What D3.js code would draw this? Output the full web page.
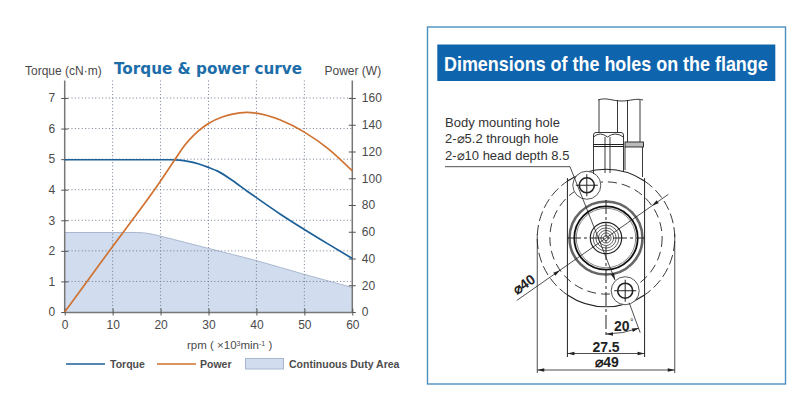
<!DOCTYPE html>
<html><head><meta charset="utf-8">
<script src="https://cdn.jsdelivr.net/npm/d3@7"></script>
<style>
html,body{margin:0;padding:0;background:#fff}
svg{display:block}
text{font-family:"Liberation Sans",Arial,sans-serif}
</style></head><body>
<svg id="c" width="800" height="393"></svg>
<script>
const torqueRpm=[0,10,20,22,24,26,28,30,32,35,38,40,45,50,55,60];
const torqueVal=[4.98,4.98,4.98,4.98,4.97,4.92,4.84,4.73,4.6,4.3,3.96,3.74,3.2,2.7,2.22,1.75];
const powerRpm=[0,5,10,15,20,23,25,27,29,30,33,35,38,40,45,50,55,60];
const powerVal=[0,24.5,49,73,98,114,124.5,132.5,138.5,141,146,148,149.2,148.7,143.5,134.5,122,105.5];
const dutyRpm=[0,10,15,17,20,25,30,40,50,60];
const dutyVal=[2.6,2.6,2.6,2.58,2.48,2.28,2.08,1.68,1.23,.8];
const torqueTicks=[0,1,2,3,4,5,6,7];
const powerTicks=[0,20,40,60,80,100,120,140,160];
const rpmTicks=[0,10,20,30,40,50,60];
const noteLines=["Body mounting hole","2-⌀5.2 through hole","2-⌀10 head depth 8.5"];
const legendNames=["Torque","Power","Continuous Duty Area"];
const flangeDashDia=40, flangeDia=49, flatWidth=27.5, holeAngle=20;
const ringRadii=[13,11.3,10.6];
const coreRadii=[5.6,4.6,3.6,2.7,1.8,.9];

const svg=d3.select("#c");
const L=64.7,R=352.3,B=312,T=80.5;
const x=d3.scaleLinear().domain([0,60]).range([L,R]);
const yT=d3.scaleLinear().domain([0,7]).range([B,98]);
const yP=d3.scaleLinear().domain([0,160]).range([B,98]);
const blue="#1b6098",orange="#cf7231",txt="#4a4a4a",axc="#777";

// area
const curve=d3.curveMonotoneX;
svg.append("path").datum(dutyRpm.map((r,i)=>[r,dutyVal[i]]))
  .attr("fill","#d1dcee")
  .attr("d",d3.area().x(d=>x(d[0])).y0(B).y1(d=>yT(d[1])).curve(curve));
svg.append("path").datum(dutyRpm.map((r,i)=>[r,dutyVal[i]]))
  .attr("fill","none").attr("stroke","#a9b8d0").attr("stroke-width",1)
  .attr("d",d3.line().x(d=>x(d[0])).y(d=>yT(d[1])).curve(curve));

// grid
const grid=svg.append("g").attr("stroke","#6f7b90").attr("stroke-width",1).attr("stroke-dasharray","1 2.4");
torqueTicks.slice(1).forEach(t=>grid.append("line").attr("x1",L).attr("x2",R).attr("y1",yT(t)).attr("y2",yT(t)));
rpmTicks.slice(1,-1).forEach(t=>grid.append("line").attr("x1",x(t)).attr("x2",x(t)).attr("y1",T).attr("y2",B));

// axes: ticks straddle the axis lines
function axis(g,a,vertical){g.call(a);
  const dom=g.select(".domain").attr("stroke",axc).attr("stroke-width",1.5);
  if(vertical) dom.attr("d",`M0,${T}V${B}`);
  g.selectAll(".tick line").attr("stroke","#555").attr("stroke-width",1);
  if(vertical) g.selectAll(".tick line").attr("x1",-3.5).attr("x2",3.5);
  else g.selectAll(".tick line").attr("y1",-3.5).attr("y2",3.5);
  g.selectAll("text").attr("fill",txt).attr("font-size",12).attr("font-family",'"Liberation Sans",Arial,sans-serif');}
axis(svg.append("g").attr("transform",`translate(${L},0)`),d3.axisLeft(yT).tickValues(torqueTicks).tickFormat(d3.format("d")).tickSize(3.5).tickPadding(6).tickSizeOuter(0),true);
axis(svg.append("g").attr("transform",`translate(${R},0)`),d3.axisRight(yP).tickValues(powerTicks).tickSize(3.5).tickPadding(6).tickSizeOuter(0),true);
axis(svg.append("g").attr("transform",`translate(0,${B})`),d3.axisBottom(x).tickValues(rpmTicks).tickSize(3.5).tickPadding(5).tickSizeOuter(0),false);

// curves
svg.append("path").datum(torqueRpm.map((r,i)=>[r,torqueVal[i]])).attr("fill","none").attr("stroke",blue).attr("stroke-width",1.7)
  .attr("d",d3.line().x(d=>x(d[0])).y(d=>yT(d[1])).curve(curve));
svg.append("path").datum(powerRpm.map((r,i)=>[r,powerVal[i]])).attr("fill","none").attr("stroke",orange).attr("stroke-width",1.7)
  .attr("d",d3.line().x(d=>x(d[0])).y(d=>yP(d[1])).curve(curve));

// labels
const label=(px,py,s,size,o={})=>svg.append("text").attr("x",px).attr("y",py).text(s).attr("font-size",size).attr("fill",o.fill||txt)
  .attr("font-weight",o.weight||null).attr("text-anchor",o.anchor||"start").style("font-family",o.font||null);
label(25,75,"Torque (cN·m)",12);
label(324.5,75,"Power (W)",12);
label(114,74,"Torque & power curve",15.2,{fill:"#1c6da9",weight:"bold",font:'"DejaVu Sans",sans-serif'});
const rpmLabel=svg.append("text").attr("x",187).attr("y",349).attr("font-size",11.5).attr("fill",txt);
rpmLabel.append("tspan").text("rpm ( ×10");
rpmLabel.append("tspan").text("3").attr("font-size",7).attr("dy",-3);
rpmLabel.append("tspan").text("min").attr("font-size",11.5).attr("dy",3);
rpmLabel.append("tspan").text("-1").attr("font-size",7).attr("dy",-3);
rpmLabel.append("tspan").text(" )").attr("font-size",11.5).attr("dy",3);

// legend
const ly=364;
svg.append("line").attr("x1",66).attr("x2",105).attr("y1",ly).attr("y2",ly).attr("stroke",blue).attr("stroke-width",1.7);
svg.append("line").attr("x1",157).attr("x2",196).attr("y1",ly).attr("y2",ly).attr("stroke",orange).attr("stroke-width",1.7);
svg.append("rect").attr("x",245.5).attr("y",358.5).attr("width",38).attr("height",10.5).attr("fill","#d1dcee").attr("stroke","#a9b8d0");
[[110,0],[200,1],[289,2]].forEach(([px,i])=>label(px,368,legendNames[i],10.5,{weight:"bold",fill:"#4d4d4d"}));

// right panel
svg.append("rect").attr("x",427.5).attr("y",27).attr("width",358).attr("height",357).attr("fill","none").attr("stroke","#4a8fc0").attr("stroke-width",1.4);
svg.append("rect").attr("x",437.3).attr("y",44.5).attr("width",338).attr("height",36.5).attr("fill","#0f65ad");
const head=svg.append("text").attr("font-size",20).attr("font-weight","bold").attr("fill","#fff").text("Dimensions of the holes on the flange");
const headW=head.node().getComputedTextLength();
head.attr("transform",`translate(444,71) scale(${324/headW},1)`);
noteLines.forEach((s,i)=>label(445,127+i*16.3,s,13,{fill:"#333"}));

// drawing, in millimetres around the shaft centre
const k=d3.scaleLinear().domain([0,flangeDia]).range([0,137.5]);
const cx=606,cy=238;
const d=svg.append("g").attr("transform",`translate(${cx},${cy})`).attr("fill","none").attr("stroke","#222").attr("stroke-width",1);
const rO=k(flangeDia/2),rD=k(flangeDashDia/2),hw=k(flatWidth/2);
const rad=a=>a*Math.PI/180;
const hA=rad(holeAngle);
const h1=[-rD*Math.sin(hA),-rD*Math.cos(hA)], h2=[rD*Math.sin(hA),rD*Math.cos(hA)];
const arcPath=(r,a0,a1)=>{const p=d3.path();p.arc(0,0,r,a0-Math.PI/2,a1-Math.PI/2);return p.toString();};
const aFlat=Math.asin(hw/rO);
d.append("path").attr("d",arcPath(rO,-aFlat,aFlat)).attr("stroke-width",1.2);
d.append("path").attr("d",arcPath(rO,Math.PI-aFlat,Math.PI+aFlat)).attr("stroke-width",1.2);
d.append("path").attr("d",arcPath(rO,aFlat,Math.PI-aFlat)).attr("stroke-dasharray","10 4").attr("stroke-width",.9);
d.append("path").attr("d",arcPath(rO,Math.PI+aFlat,2*Math.PI-aFlat)).attr("stroke-dasharray","10 4").attr("stroke-width",.9);
d.append("circle").attr("r",rD).attr("stroke-dasharray","9 5").attr("stroke-width",.9);
[-hw,hw].forEach(v=>d.append("line").attr("x1",v).attr("x2",v).attr("y1",-Math.sqrt(rO*rO-hw*hw)-3).attr("y2",119));
[-rO,rO].forEach(v=>d.append("line").attr("x1",v).attr("x2",v).attr("y1",-4).attr("y2",135).attr("stroke-width",.8));
ringRadii.forEach((r,i)=>d.append("circle").attr("r",k(r)).attr("stroke",i==0?"#666":i==1?"#111":"#666").attr("stroke-width",i==0?2.6:i==1?1.8:.8));
coreRadii.forEach((r,i)=>d.append("circle").attr("r",k(r)).attr("stroke-width",i==0?1.2:.7));
d.append("line").attr("x1",-39).attr("x2",39).attr("stroke-dasharray","14 3 3 3");
d.append("line").attr("y1",-38).attr("y2",97).attr("stroke-dasharray","14 3 3 3");
[h1,h2].forEach(h=>{const g=d.append("g").attr("transform",`translate(${h[0]},${h[1]})`);
  g.append("circle").attr("r",14).attr("stroke-width",1).attr("fill","#fff").attr("stroke","#555");
  g.append("circle").attr("r",7.5).attr("stroke-width",1.6).attr("fill","#fff");
  g.append("line").attr("x1",-11).attr("x2",11);g.append("line").attr("y1",-11).attr("y2",11);});
d.append("path").attr("d",`M-161,-71.3H-36L9,42`).attr("stroke-width",.8);
const arrow=(px,py,a)=>d.append("path").attr("transform",`translate(${px},${py}) rotate(${a})`).attr("d","M0,0L-7,-1.8L-7,1.8Z").attr("fill","#222").attr("stroke","none");
arrow(9,42,68);
const ang=rad(-35);
const ex=Math.cos(ang),ey=Math.sin(ang);
d.append("line").attr("x1",-109*ex).attr("y1",-109*ey).attr("x2",76*ex).attr("y2",76*ey).attr("stroke-width",.8);
arrow(rD*ex,rD*ey,145);arrow(-rD*ex,-rD*ey,-35);
svg.append("text").attr("transform",`translate(517,295) rotate(-35)`).attr("font-size",14).attr("font-weight","bold").attr("fill","#222").text("⌀40");
d.append("line").attr("x1",h2[0]+4).attr("y1",h2[1]+12).attr("x2",h2[0]+15).attr("y2",h2[1]+42).attr("stroke-width",.8);
d.append("path").attr("d",arcPath(96,Math.PI-hA,Math.PI)).attr("stroke-width",.8);
arrow(0,96,180);arrow(33,90,-18);
label(614,330.5,"20",14,{weight:"bold",fill:"#222"});
label(630,325,"°",9,{fill:"#222"});
d.append("line").attr("x1",-hw).attr("x2",hw).attr("y1",115.5).attr("y2",115.5).attr("stroke-width",.8);
arrow(hw,115.5,0);arrow(-hw,115.5,180);
label(606,352,String(flatWidth),14,{weight:"bold",fill:"#222",anchor:"middle"});
d.append("line").attr("x1",-rO).attr("x2",rO).attr("y1",132).attr("y2",132).attr("stroke-width",.8);
arrow(rO,132,0);arrow(-rO,132,180);
label(607,367,"⌀"+flangeDia,14,{weight:"bold",fill:"#222",anchor:"middle"});
const sh=svg.append("g").attr("fill","none").attr("stroke","#222").attr("stroke-width",.9);
sh.append("path").attr("d","M598,100C606,97 612,101 622,101C630,101 636,98 643,100");
[599,617.5,627.5,640].forEach((v,i)=>sh.append("line").attr("x1",v).attr("x2",v).attr("y1",100).attr("y2",i>=2?142:133));
sh.append("path").attr("d","M593.5,174V135Q593.5,132.5 596,132.5H621Q623.5,132.5 623.5,135V172");
sh.append("path").attr("d","M593.5,137Q600,131 607.5,137Q615,131 623.5,137");
sh.append("path").attr("d","M593.5,144.5H623.5M593.5,146.5H623.5").attr("stroke-width",1.1);
sh.append("line").attr("x1",605).attr("x2",605).attr("y1",137).attr("y2",173);
sh.append("line").attr("x1",610).attr("x2",610).attr("y1",137).attr("y2",173);
sh.append("rect").attr("x",625).attr("y",142).attr("width",18.5).attr("height",5).attr("fill","#bbb");
sh.append("path").attr("d","M625,147V170M642.5,147V177");
</script>
</body></html>
